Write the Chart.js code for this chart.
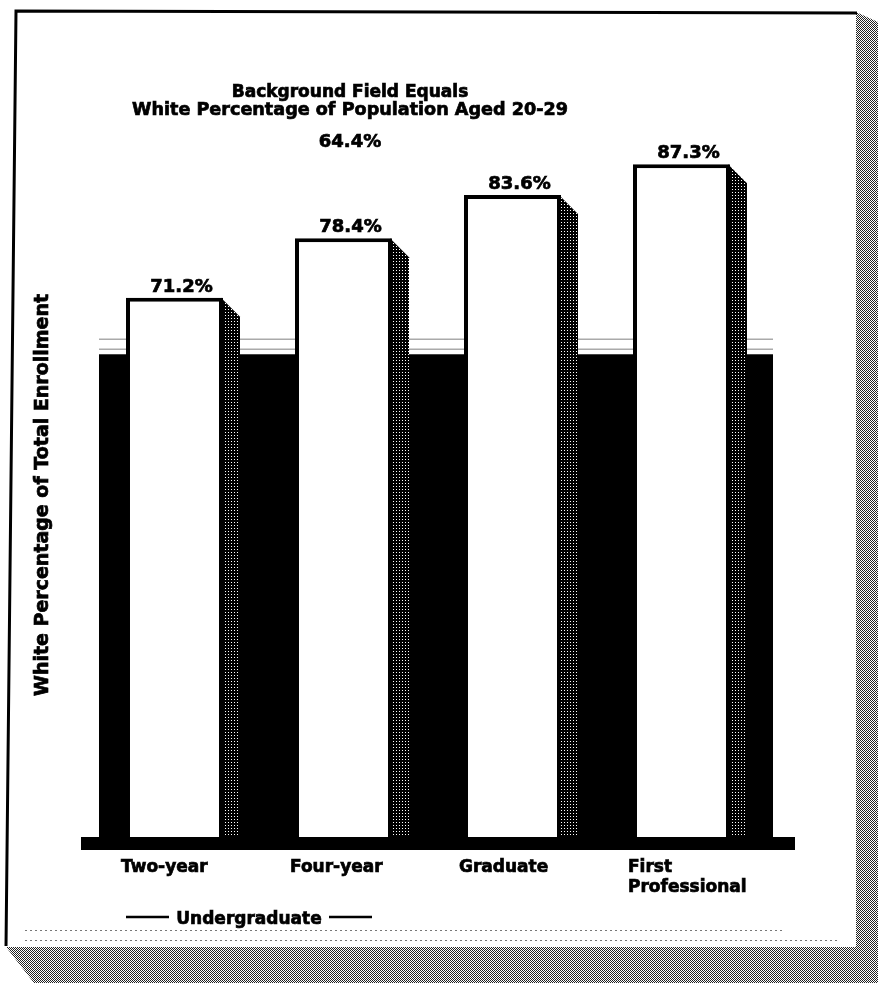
<!DOCTYPE html>
<html>
<head>
<meta charset="utf-8">
<script src="https://cdn.jsdelivr.net/npm/chart.js@4/dist/chart.umd.min.js"></script>
<style>
  html, body { margin: 0; padding: 0; background: #fff; }
  #wrap { width: 878px; height: 983px; position: relative; }
</style>
</head>
<body>
<div id="wrap"><canvas id="enrollChart"></canvas></div>
<script>
// data
const categories = [['Two-year'], ['Four-year'], ['Graduate'], ['First', 'Professional']];
const whiteShare = [71.2, 78.4, 83.6, 87.3];
const populationShare = 64.4;
const titleLines = ['Background Field Equals', 'White Percentage of Population Aged 20-29'];
const yTitle = 'White Percentage of Total Enrollment';
const groupLabel = 'Undergraduate';
const yMin = 6.2;
const yMax = 100;

const FONT = '"DejaVu Sans", "Liberation Sans", sans-serif';

function pct(v) { return v.toFixed(1) + '%'; }

// heavy text: fill plus a thin stroke, the scan type is quite black
function heavyText(ctx, s, x, y) {
    ctx.fillText(s, x, y);
    ctx.strokeText(s, x, y);
}

// halftone-ish fills
function makePattern(size, dots, bg, fg) {
    const c = document.createElement('canvas');
    c.width = c.height = size;
    const g = c.getContext('2d');
    g.fillStyle = bg;
    g.fillRect(0, 0, size, size);
    g.fillStyle = fg;
    dots.forEach(d => g.fillRect(d[0], d[1], 1, 1));
    return g.createPattern(c, 'repeat');
}
const pagePattern = makePattern(2, [[0, 0], [1, 1]], '#fff', '#222');
const barShadow = makePattern(3, [[0, 0]], '#000', '#fff');

const scanArt = {
    id: 'scanArt',
    beforeDraw(chart) {
        const ctx = chart.ctx;
        const W = chart.width, H = chart.height;
        ctx.save();
        ctx.fillStyle = '#fff';
        ctx.fillRect(0, 0, W, H);

        // page shadow, right and bottom
        ctx.fillStyle = pagePattern;
        ctx.beginPath();
        ctx.moveTo(856, 12); ctx.lineTo(W, 22); ctx.lineTo(W, H); ctx.lineTo(856, H);
        ctx.closePath(); ctx.fill();
        ctx.beginPath();
        ctx.moveTo(6, 947); ctx.lineTo(W, 947); ctx.lineTo(W, H); ctx.lineTo(34, H);
        ctx.closePath(); ctx.fill();

        // page border
        ctx.strokeStyle = '#000';
        ctx.lineWidth = 3;
        ctx.beginPath();
        ctx.moveTo(6, 946); ctx.lineTo(16, 11); ctx.lineTo(857, 13);
        ctx.stroke();

        // faint dotted rules near the bottom
        ctx.strokeStyle = '#777';
        ctx.lineWidth = 1;
        ctx.setLineDash([2, 3]);
        ctx.beginPath();
        ctx.moveTo(25, 930.5); ctx.lineTo(785, 930.5);
        ctx.moveTo(25, 940.5); ctx.lineTo(840, 940.5);
        ctx.stroke();
        ctx.restore();
    },
    beforeDatasetsDraw(chart) {
        const { ctx, chartArea, scales: { y } } = chart;
        const bars = chart.getDatasetMeta(0).data.map(b => b.getProps(['x', 'y', 'width'], true));
        const first = bars[0], last = bars[bars.length - 1];
        const fieldL = first.x - first.width / 2 - 27;
        const fieldR = last.x + last.width / 2 + 43;
        const fieldT = y.getPixelForValue(populationShare);
        const bottom = chartArea.bottom;
        ctx.save();

        // grey scan lines just above the field
        ctx.strokeStyle = '#aaa';
        ctx.lineWidth = 1.5;
        ctx.beginPath();
        ctx.moveTo(fieldL, fieldT - 15); ctx.lineTo(fieldR, fieldT - 15);
        ctx.moveTo(fieldL, fieldT - 5); ctx.lineTo(fieldR, fieldT - 5);
        ctx.stroke();

        // background field = population share
        ctx.fillStyle = '#000';
        ctx.fillRect(fieldL, fieldT, fieldR - fieldL, bottom - fieldT);

        // bar drop shadows
        ctx.fillStyle = barShadow;
        bars.forEach(b => {
            const r = b.x + b.width / 2;
            ctx.beginPath();
            ctx.moveTo(r - 2, b.y);
            ctx.lineTo(r + 17, b.y + 19);
            ctx.lineTo(r + 17, bottom);
            ctx.lineTo(r - 2, bottom);
            ctx.closePath();
            ctx.fill();
        });
        ctx.restore();
    },
    afterDatasetsDraw(chart) {
        const { ctx, chartArea } = chart;
        const bars = chart.getDatasetMeta(0).data.map(b => b.getProps(['x', 'y', 'width'], true));
        const first = bars[0], last = bars[bars.length - 1];
        const fieldL = first.x - first.width / 2 - 27;
        const fieldR = last.x + last.width / 2 + 43;
        const bottom = chartArea.bottom;
        ctx.save();

        // black base strip
        ctx.fillStyle = '#000';
        ctx.fillRect(fieldL - 18, bottom, fieldR - fieldL + 40, 13);

        ctx.fillStyle = '#000';
        ctx.strokeStyle = '#000';
        ctx.lineWidth = 0.7;
        // value labels
        ctx.font = 'bold 18px ' + FONT;
        ctx.textAlign = 'center';
        ctx.textBaseline = 'alphabetic';
        bars.forEach((b, i) => heavyText(ctx, pct(whiteShare[i]), b.x + 7, b.y - 6));

        // category labels, left aligned under the bars
        ctx.font = 'bold 17px ' + FONT;
        ctx.textAlign = 'left';
        bars.forEach((b, i) => {
            categories[i].forEach((line, k) => {
                heavyText(ctx, line, b.x - b.width / 2 - 5, bottom + 35 + k * 20);
            });
        });

        // undergraduate bracket
        const gc = (bars[0].x - bars[0].width / 2 + bars[1].x + bars[1].width / 2) / 2 - 10;
        ctx.textAlign = 'center';
        heavyText(ctx, groupLabel, gc, bottom + 87);
        ctx.save();
        ctx.lineWidth = 2.5;
        ctx.beginPath();
        ctx.moveTo(gc - 123, bottom + 80); ctx.lineTo(gc - 80, bottom + 80);
        ctx.moveTo(gc + 80, bottom + 80); ctx.lineTo(gc + 123, bottom + 80);
        ctx.stroke();
        ctx.restore();

        // y axis title
        ctx.save();
        ctx.font = 'bold 19px ' + FONT;
        ctx.translate(43, 495);
        ctx.rotate(-Math.PI / 2);
        ctx.textBaseline = 'middle';
        heavyText(ctx, yTitle, 0, 0);
        ctx.restore();

        // title block
        const tx = 350;
        ctx.font = 'bold 17px ' + FONT;
        heavyText(ctx, titleLines[0], tx, 97);
        ctx.font = 'bold 17.6px ' + FONT;
        heavyText(ctx, titleLines[1], tx, 115);
        ctx.font = 'bold 18px ' + FONT;
        heavyText(ctx, pct(populationShare), tx, 147);
        ctx.restore();
    }
};

const ctx = document.getElementById('enrollChart').getContext('2d');
const enrollChart = new Chart(ctx, {
    type: 'bar',
    data: {
        labels: categories,
        datasets: [{
            label: 'White % of total enrollment',
            data: whiteShare,
            backgroundColor: '#fff',
            borderColor: '#000',
            borderWidth: 4,
            borderSkipped: 'start',
            categoryPercentage: 1,
            barPercentage: 0.574
        }]
    },
    options: {
        responsive: true,
        maintainAspectRatio: false,
        animation: false,
        layout: {
            padding: { left: 90, right: 112, top: 59, bottom: 146 }
        },
        plugins: {
            legend: { display: false },
            tooltip: { enabled: false }
        },
        scales: {
            x: { display: false },
            y: { display: false, min: yMin, max: yMax }
        }
    },
    plugins: [scanArt]
});
</script>
</body>
</html>
